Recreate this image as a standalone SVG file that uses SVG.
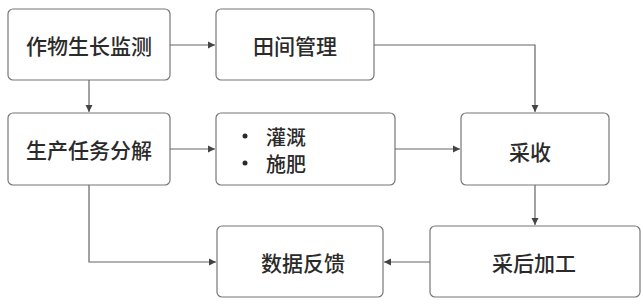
<svg xmlns="http://www.w3.org/2000/svg" width="643" height="304" viewBox="0 0 643 304">
<defs>
<marker id="ah" markerWidth="8" markerHeight="8" refX="7" refY="4" orient="auto" markerUnits="userSpaceOnUse">
<path d="M0,0.5 L7,4 L0,7.5 Z" fill="#444"/>
</marker>
<style>
.box{fill:#fff;stroke:#777;stroke-width:1.2}
.t{font-family:"Noto Sans CJK SC","Noto Sans",sans-serif;font-size:21px;font-weight:500;fill:#2a2a2a;text-anchor:middle;dominant-baseline:central}
.tl{font-family:"Noto Sans CJK SC","Noto Sans",sans-serif;font-size:20px;font-weight:500;fill:#2a2a2a;dominant-baseline:central}
.c{fill:none;stroke:#666;stroke-width:1.2;marker-end:url(#ah)}
</style>
</defs>
<rect width="643" height="304" fill="#fff"/>
<g id="n1"><rect class="box" x="8" y="9" width="162" height="71" rx="5"/><text class="t" x="89" y="45">作物生长监测</text></g>
<g id="n2"><rect class="box" x="216" y="9" width="158" height="71" rx="5"/><text class="t" x="295" y="45">田间管理</text></g>
<g id="n3"><rect class="box" x="8" y="113" width="162" height="72" rx="5"/><text class="t" x="89" y="149">生产任务分解</text></g>
<g id="n4"><rect class="box" x="216" y="113" width="179" height="72" rx="5"/>
<circle cx="245" cy="136" r="2.5" fill="#2a2a2a"/><text class="tl" x="266" y="136">灌溉</text>
<circle cx="245" cy="163" r="2.5" fill="#2a2a2a"/><text class="tl" x="266" y="163">施肥</text></g>
<g id="n5"><rect class="box" x="461" y="113" width="148" height="72" rx="5"/><text class="t" x="530" y="151">采收</text></g>
<g id="n6"><rect class="box" x="217" y="226" width="166" height="71" rx="5"/><text class="t" x="303" y="262">数据反馈</text></g>
<g id="n7"><rect class="box" x="430" y="226" width="210" height="71" rx="5"/><text class="t" x="534" y="262">采后加工</text></g>
<g id="connectors">
<path class="c" d="M170,45 L215,45"/>
<path class="c" d="M89,80 L89,112"/>
<path class="c" d="M374,45 L535,45 L535,112"/>
<path class="c" d="M170,149 L215,149"/>
<path class="c" d="M395,149 L460,149"/>
<path class="c" d="M535,185 L535,225"/>
<path class="c" d="M430,262 L384,262"/>
<path class="c" d="M89,185 L89,262 L216,262"/>
</g>
</svg>
